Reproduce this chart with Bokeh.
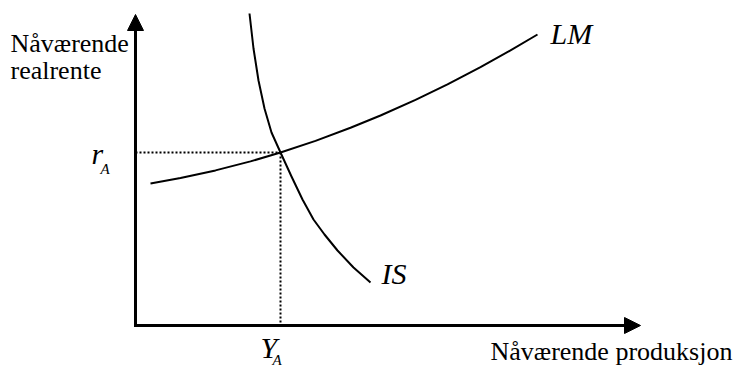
from bokeh.plotting import figure
from bokeh.models import Range1d, Arrow, NormalHead
from bokeh.core.properties import value
from bokeh.embed import file_html
from bokeh.resources import INLINE

# ---- data (origin = corner of the axes) ----
lm_x = [15, 45, 80, 115, 145, 180, 215, 245, 280, 312, 345, 375, 402]
lm_y = [142, 147.4, 155.1, 164.1, 173, 184.6, 197.7, 210, 225.6, 241.1, 258.3, 275.1, 291]

is_x = [114, 118, 123, 129, 136, 145, 156, 167, 178, 189, 202, 218, 235]
is_y = [312, 277, 245, 217, 193, 173, 149, 126, 106, 91, 75, 58, 43]

# equilibrium point A
y_a = 145
r_a = 173

# axis extents
x_axis_end = 505
y_axis_end = 311

FONT = value("Liberation Serif")

p = figure(width=740, height=367, x_range=Range1d(-135, 605), y_range=Range1d(-42, 325),
           output_backend="svg", toolbar_location=None, min_border=0,
           x_axis_type=None, y_axis_type=None, outline_line_color=None,
           background_fill_color="white", border_fill_color="white")
p.grid.visible = False

# axes with arrow heads
p.add_layout(Arrow(end=NormalHead(size=16, fill_color="black", line_color="black", line_width=1),
                   x_start=0, y_start=-1.5, x_end=0, y_end=y_axis_end,
                   line_color="black", line_width=3))
p.add_layout(Arrow(end=NormalHead(size=16, fill_color="black", line_color="black", line_width=1),
                   x_start=-1.5, y_start=0, x_end=x_axis_end, y_end=0,
                   line_color="black", line_width=3))

# dotted guide lines
p.line([0, y_a], [r_a, r_a], line_color="black", line_width=2, line_dash="2 2")
p.line([y_a, y_a], [r_a, 0], line_color="black", line_width=2, line_dash="2 2")

# curves
p.line(lm_x, lm_y, line_color="black", line_width=2, line_join="round")
p.line(is_x, is_y, line_color="black", line_width=2, line_join="round")

def label(x, y, t, size, italic=False):
    p.text(x=[x], y=[y], text=[t], text_font=FONT, text_font_size=value(size),
           text_font_style="italic" if italic else "normal",
           text_color="black", text_align="left", text_baseline="alphabetic")

label(-125, 282.5, "Nåværende", "26px")
label(-125, 255.5, "realrente", "26px")
label(355, -25.5, "Nåværende produksjon", "26px")
label(415, 292, "LM", "30px", True)
label(246, 52, "IS", "30px", True)
label(-44, 172, "r", "30px", True)
label(-35, 157, "A", "15px", True)
label(125, -22, "Y", "30px", True)
label(137, -34.5, "A", "15px", True)

open("out.html", "w").write(file_html(p, INLINE))
